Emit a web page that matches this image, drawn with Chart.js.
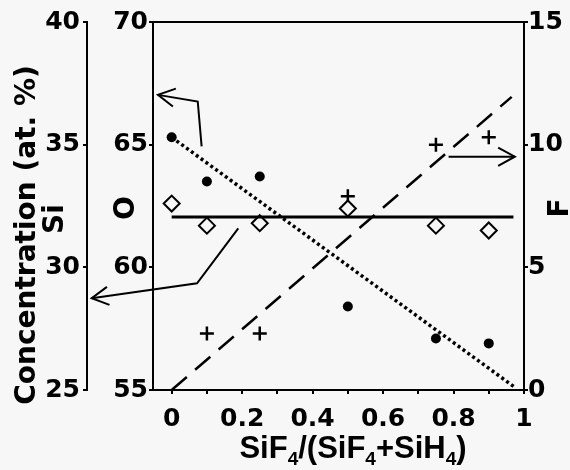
<!DOCTYPE html>
<html><head><meta charset="utf-8">
<script src="https://cdn.jsdelivr.net/npm/chart.js@4"></script>
<style>html,body{margin:0;padding:0;background:#f7f7f7;}canvas{display:block;}</style>
</head><body>
<canvas id="c" width="570" height="470"></canvas>
<script>
// ---- data ----
const ratioX    = [0, 0.1, 0.25, 0.5, 0.75, 0.9];
const oxygen    = [65.3, 63.5, 63.7, 58.4, 57.1, 56.9];
const silicon   = [32.6, 31.7, 31.8, 32.4, 31.7, 31.5];
const fluorineX = [0.1, 0.25, 0.5, 0.75, 0.9];
const fluorine  = [2.3, 2.3, 7.9, 10.0, 10.3];
// fitted lines
const oFitX  = [0, 0.975];  const oFitY  = [65.3, 55.1];
const siFitX = [0, 0.97];   const siFitY = [32.05, 32.05];
const fFitX  = [0, 0.965];  const fFitY  = [0, 11.95];
// ticks
const xTicks      = [0, 0.1, 0.2, 0.3, 0.4, 0.5, 0.6, 0.7, 0.8, 0.9, 1];
const xTickLabels = ['0', '', '0.2', '', '0.4', '', '0.6', '', '0.8', '', '1'];
const oTicks  = [55, 60, 65, 70];
const siTicks = [25, 30, 35, 40];
const fTicks  = [0, 5, 10, 15];
// arrow annotations (data coordinates on the named axis)
const arrowOX  = [0.085, 0.074, -0.039]; const arrowOY  = [64.93, 66.76, 67.03];
const arrowSiX = [0.189, 0.072, -0.227]; const arrowSiY = [31.59, 29.35, 28.74];
const arrowFX  = [0.786, 0.974];         const arrowFY  = [9.51, 9.51];

const pts = (xs, ys) => xs.map((x, i) => ({x: x, y: ys[i]}));
const fixedTicks = vals => scale => { scale.ticks = vals.map(v => ({value: v})); };
const tickFont = {family: 'DejaVu Sans', size: 25, weight: 'bold'};
const BG = '#f7f7f7';

function axisCfg(extra) {
  return Object.assign({
    type: 'linear',
    border: {display: true, color: '#000', width: 2},
    grid: {drawOnChartArea: false, drawTicks: true, tickLength: 4, color: '#000', lineWidth: 2},
  }, extra);
}

const decor = {
  id: 'decor',
  afterDraw(chart) {
    const ctx = chart.ctx, ca = chart.chartArea, xs = chart.scales.x;
    ctx.save();
    ctx.strokeStyle = '#000'; ctx.fillStyle = '#000';
    ctx.lineWidth = 2; ctx.lineCap = 'butt';
    // top frame line
    ctx.beginPath(); ctx.moveTo(ca.left - 1, ca.top); ctx.lineTo(ca.right + 1, ca.top); ctx.stroke();
    // arrows
    const arrows = [['yO', arrowOX, arrowOY], ['ySi', arrowSiX, arrowSiY], ['yF', arrowFX, arrowFY]];
    arrows.forEach(([ax, ax_x, ax_y]) => {
      const ys = chart.scales[ax];
      const p = ax_x.map((v, i) => [xs.getPixelForValue(v), ys.getPixelForValue(ax_y[i])]);
      ctx.beginPath(); ctx.moveTo(p[0][0], p[0][1]);
      for (let i = 1; i < p.length; i++) ctx.lineTo(p[i][0], p[i][1]);
      ctx.stroke();
      const [tx, ty] = p[p.length - 1], [qx, qy] = p[p.length - 2];
      const a = Math.atan2(ty - qy, tx - qx), L = 19, h = 0.5;
      ctx.beginPath();
      ctx.moveTo(tx - L * Math.cos(a - h), ty - L * Math.sin(a - h));
      ctx.lineTo(tx, ty);
      ctx.lineTo(tx - L * Math.cos(a + h), ty - L * Math.sin(a + h));
      ctx.stroke();
    });
    // rotated axis titles
    const rot = (txt, x, y, font) => {
      ctx.save(); ctx.translate(x, y); ctx.rotate(-Math.PI / 2);
      ctx.font = font; ctx.textAlign = 'center'; ctx.textBaseline = 'alphabetic';
      ctx.fillText(txt, 0, 0); ctx.restore();
    };
    const tf = 'bold 28px "DejaVu Sans"';
    rot('Concentration (at. %)', 35, 235, tf);
    rot('Si', 63, 219, tf);
    rot('O', 134, 208, tf);
    rot('F', 568, 208, tf);
    // x title with subscripts
    const main = 'bold 31px "Liberation Sans"', sub = 'bold 19px "Liberation Sans"';
    const parts = [['SiF', main, 0], ['4', sub, 7], ['/(SiF', main, 0], ['4', sub, 7],
                   ['+SiH', main, 0], ['4', sub, 7], [')', main, 0]];
    ctx.textAlign = 'left'; ctx.textBaseline = 'alphabetic';
    let w = 0;
    parts.forEach(pt => { ctx.font = pt[1]; w += ctx.measureText(pt[0]).width; });
    let x = 353 - w / 2; const base = 458;
    parts.forEach(pt => { ctx.font = pt[1]; ctx.fillText(pt[0], x, base + pt[2]); x += ctx.measureText(pt[0]).width; });
    ctx.restore();
  }
};

new Chart(document.getElementById('c'), {
  type: 'scatter',
  data: {
    datasets: [
      {data: pts(oFitX, oFitY), yAxisID: 'yO', showLine: true, pointRadius: 0,
       borderColor: '#000', borderWidth: 3.5, borderDash: [3, 3]},
      {data: pts(siFitX, siFitY), yAxisID: 'ySi', showLine: true, pointRadius: 0,
       borderColor: '#000', borderWidth: 3},
      {data: pts(fFitX, fFitY), yAxisID: 'yF', showLine: true, pointRadius: 0,
       borderColor: '#000', borderWidth: 2.5, borderDash: [20, 11]},
      {data: pts(ratioX, oxygen), yAxisID: 'yO', pointStyle: 'circle', pointRadius: 5,
       backgroundColor: '#000', borderColor: '#000', borderWidth: 0},
      {data: pts(ratioX, silicon), yAxisID: 'ySi', pointStyle: 'rectRot', pointRadius: 8,
       backgroundColor: BG, borderColor: '#000', borderWidth: 2},
      {data: pts(fluorineX, fluorine), yAxisID: 'yF', pointStyle: 'cross', pointRadius: 7,
       backgroundColor: '#000', borderColor: '#000', borderWidth: 2.5},
    ]
  },
  options: {
    responsive: false, animation: false, devicePixelRatio: 1,
    layout: {padding: {top: 22, left: 0, right: 0, bottom: 0}},
    plugins: {legend: {display: false}, tooltip: {enabled: false}},
    scales: {
      x: axisCfg({position: 'bottom', min: -0.053, max: 1.0,
        afterBuildTicks: fixedTicks(xTicks), afterFit: s => { s.height = 80; },
        ticks: {font: tickFont, color: '#000', padding: 10, maxRotation: 0, autoSkip: false,
                callback: (v, i) => xTickLabels[i]}}),
      yO: axisCfg({position: 'left', min: 55, max: 70, weight: 0,
        afterBuildTicks: fixedTicks(oTicks), afterFit: s => { s.width = 66; },
        ticks: {font: tickFont, color: '#000', padding: 1, autoSkip: false}}),
      ySi: axisCfg({position: 'left', min: 25, max: 40, weight: 1,
        afterBuildTicks: fixedTicks(siTicks), afterFit: s => { s.width = 87; },
        ticks: {font: tickFont, color: '#000', padding: 3, autoSkip: false}}),
      yF: axisCfg({position: 'right', min: 0, max: 15,
        afterBuildTicks: fixedTicks(fTicks), afterFit: s => { s.width = 46; },
        ticks: {font: tickFont, color: '#000', padding: 0, autoSkip: false}}),
    }
  },
  plugins: [decor]
});
</script>
</body></html>
